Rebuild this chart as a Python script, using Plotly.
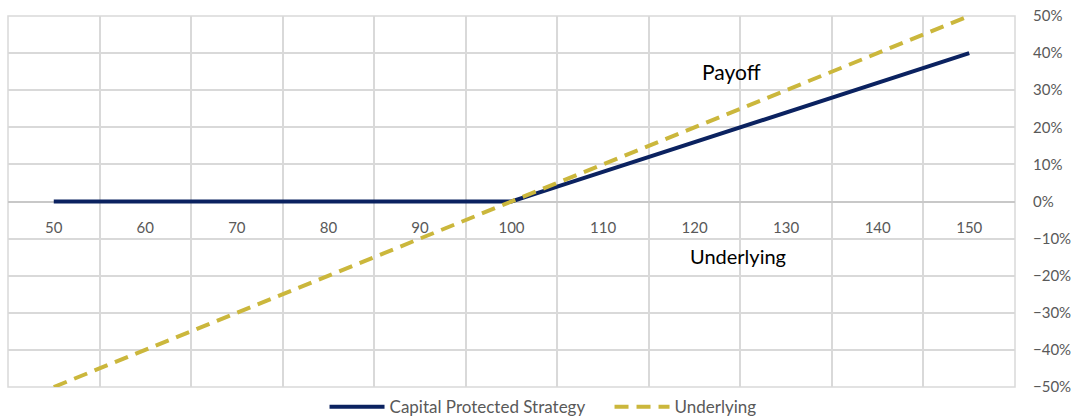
import plotly.graph_objects as go

# underlying level at maturity
levels = [50, 55, 60, 65, 70, 75, 80, 85, 90, 95, 100,
          105, 110, 115, 120, 125, 130, 135, 140, 145, 150]
# payoff of the capital protected note (80% participation)
strategy = [0, 0, 0, 0, 0, 0, 0, 0, 0, 0, 0,
            0.04, 0.08, 0.12, 0.16, 0.20, 0.24, 0.28, 0.32, 0.36, 0.40]
# plain underlying return
underlying = [-0.50, -0.45, -0.40, -0.35, -0.30, -0.25, -0.20, -0.15, -0.10, -0.05, 0,
              0.05, 0.10, 0.15, 0.20, 0.25, 0.30, 0.35, 0.40, 0.45, 0.50]
x_ticks = [50, 60, 70, 80, 90, 100, 110, 120, 130, 140, 150]
y_ticks = [-0.5, -0.4, -0.3, -0.2, -0.1, 0, 0.1, 0.2, 0.3, 0.4, 0.5]

navy = '#0b2260'
gold = '#cbb73c'
grid = '#d9d9d9'
txt = '#595959'

fig = go.Figure()
fig.add_trace(go.Scatter(x=levels, y=strategy, name='Capital Protected Strategy',
                         mode='lines', line=dict(color=navy, width=4)))
fig.add_trace(go.Scatter(x=levels, y=underlying, name='Underlying',
                         mode='lines', line=dict(color=gold, width=4, dash='14px,8px')))

fig.add_annotation(x=124, y=0.35, text='Payoff', showarrow=False,
                   font=dict(size=21, color='#000000'))
fig.add_annotation(x=124.7, y=-0.148, text='Underlying', showarrow=False,
                   font=dict(size=20, color='#000000'))

# darker vertical axis line crossing at 105
fig.add_vline(x=105, line=dict(color='#c8c8c8', width=1.5), layer='below')

fig.update_layout(
    width=1075, height=419,
    margin=dict(l=8, r=60, t=16, b=32, autoexpand=False),
    plot_bgcolor='#ffffff', paper_bgcolor='#ffffff',
    font=dict(family='Lato, Open Sans, sans-serif', size=15, color=txt),
    showlegend=True,
    legend=dict(orientation='h', x=0.567, xanchor='center', xref='container',
                y=-0.006, yanchor='top', yref='paper', bgcolor='rgba(0,0,0,0)',
                font=dict(size=17, color=txt), itemwidth=55, tracegroupgap=0,
                entrywidth=215),
)
fig.update_xaxes(range=[45, 155], tickvals=x_ticks, showgrid=False, automargin=False,
                 anchor='free', position=0.5, showline=False,
                 ticks='outside', ticklen=12, tickcolor='rgba(0,0,0,0)',
                 tickfont=dict(size=15, color=txt),
                 minor=dict(tick0=45, dtick=10, showgrid=True, gridcolor=grid, gridwidth=1.5))
fig.update_yaxes(range=[-0.5, 0.5], tickvals=y_ticks, tickformat='.0%', side='right',
                 automargin=False,
                 showgrid=True, gridcolor=grid, gridwidth=1.5,
                 zeroline=True, zerolinecolor='#c8c8c8', zerolinewidth=1.5,
                 ticks='outside', ticklen=14, tickcolor='rgba(0,0,0,0)',
                 tickfont=dict(size=15, color=txt))
# plot border
fig.add_shape(type='rect', xref='paper', yref='paper', x0=0, x1=1, y0=0, y1=1,
              line=dict(color=grid, width=1.5), layer='below')

# drop the default page margin so the figure sits at the window's corner
fig.write_html('out.html', config={'displayModeBar': False},
               post_script="document.body.style.margin='0';")
